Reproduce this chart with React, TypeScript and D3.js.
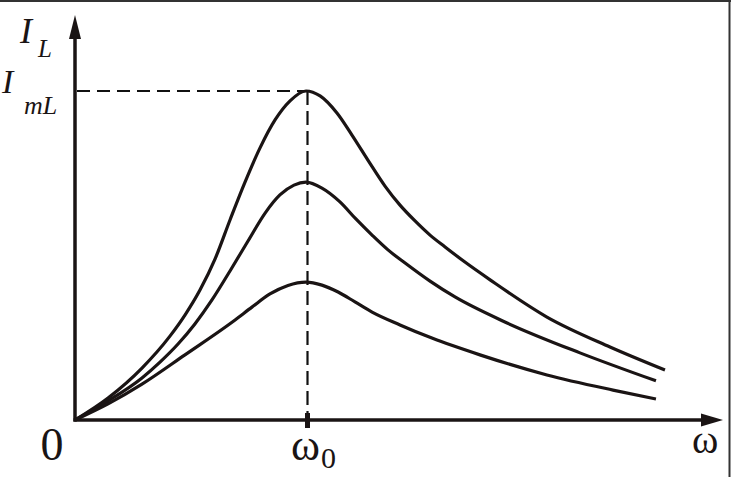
import React from 'react'
import * as d3 from 'd3'

const width = 731
const height = 477

// resonance curves: [omega / omega0, I / ImL]
const curveHigh: [number, number][] = [
  [0, 0], [0.143, 0.067], [0.29, 0.158], [0.411, 0.255], [0.476, 0.319], [0.541, 0.395],
  [0.606, 0.489], [0.671, 0.608], [0.736, 0.723], [0.801, 0.827], [0.866, 0.912],
  [0.931, 0.97], [1, 1], [1.061, 0.985], [1.134, 0.933], [1.199, 0.866], [1.268, 0.79],
  [1.342, 0.711], [1.407, 0.653], [1.472, 0.605], [1.537, 0.562], [1.602, 0.526],
  [1.688, 0.48], [1.797, 0.426], [2.043, 0.313], [2.316, 0.222], [2.554, 0.152],
]
const curveMid: [number, number][] = [
  [0, 0], [0.143, 0.058], [0.29, 0.128], [0.368, 0.176], [0.446, 0.231], [0.519, 0.292],
  [0.593, 0.365], [0.671, 0.453], [0.749, 0.544], [0.823, 0.629], [0.887, 0.684],
  [0.948, 0.714], [1, 0.723], [1.069, 0.705], [1.147, 0.663], [1.216, 0.611], [1.286, 0.562],
  [1.355, 0.517], [1.429, 0.477], [1.537, 0.422], [1.645, 0.374], [1.861, 0.298],
  [2.186, 0.204], [2.515, 0.119],
]
const curveLow: [number, number][] = [
  [0, 0], [0.143, 0.049], [0.29, 0.109], [0.476, 0.198], [0.693, 0.304], [0.766, 0.343],
  [0.844, 0.383], [0.922, 0.409], [1, 0.419], [1.069, 0.41], [1.139, 0.389], [1.212, 0.359],
  [1.286, 0.328], [1.407, 0.289], [1.545, 0.249], [1.753, 0.198], [2.043, 0.137],
  [2.329, 0.091], [2.515, 0.064],
]
const curves = [curveHigh, curveMid, curveLow]
const omega0 = 1
const peakI = 1

const ox = 75
const oy = 420
const xEnd = 723
const yTop = 15
const serif = "'Liberation Serif'"
const ink = '#1a1414'

const x = d3.scaleLinear().domain([0, 1]).range([ox, 306])
const y = d3.scaleLinear().domain([0, 1]).range([oy, 91])

const line = d3
  .line<[number, number]>()
  .x((d) => x(d[0]))
  .y((d) => y(d[1]))
  .curve(d3.curveMonotoneX)

function Label(props: { x: number; y: number; size: number; italic?: boolean; anchor?: string; children: string }) {
  return (
    <text
      x={props.x}
      y={props.y}
      fill={ink}
      fontFamily="Liberation Serif"
      textAnchor={props.anchor || 'start'}
      style={{ fontFamily: serif, fontSize: props.size, fontStyle: props.italic ? 'italic' : 'normal' }}
    >
      {props.children}
    </text>
  )
}

export default function App() {
  const w0 = x(omega0) + 1.5
  return (
    <svg width={width} height={height} style={{ position: 'absolute', left: 0, top: 0, display: 'block' }}>
      <rect width={width} height={height} fill="#fff" />
      {/* frame bits */}
      <line x1={0} x2={width} y1={1} y2={1} stroke="#333" strokeWidth={2} />
      <line x1={729.5} x2={729.5} y1={0} y2={height} stroke="#333" strokeWidth={2} />

      {/* dashed guides */}
      <line x1={ox} x2={x(omega0)} y1={y(peakI)} y2={y(peakI)} stroke="#111" strokeWidth={2.2}
        strokeDasharray="13,7" strokeDashoffset={-2} />
      <line x1={w0} x2={w0} y1={y(peakI)} y2={oy} stroke="#111" strokeWidth={2.2} strokeDasharray="14,6" />

      {curves.map((c, i) => (
        <path key={i} d={line(c) || ''} fill="none" stroke={ink} strokeWidth={3.2} />
      ))}

      {/* axes */}
      <line x1={ox} x2={ox} y1={oy + 1.5} y2={yTop + 18} stroke={ink} strokeWidth={3.5} />
      <line x1={ox - 1.5} x2={xEnd - 16} y1={oy} y2={oy} stroke={ink} strokeWidth={3.5} />
      <path d={`M${ox},${yTop} L${ox - 6},${yTop + 24} L${ox + 6},${yTop + 24} Z`} fill={ink} />
      <path d={`M${xEnd},${oy} L${xEnd - 22},${oy - 6.5} L${xEnd - 22},${oy + 6.5} Z`} fill={ink} />
      <line x1={w0} x2={w0} y1={oy - 7} y2={oy + 8} stroke={ink} strokeWidth={5} />

      <Label x={20} y={43} size={36} italic>I</Label>
      <Label x={38} y={57} size={25} italic>L</Label>
      <Label x={2} y={93} size={34} italic>I</Label>
      <Label x={24} y={114} size={26} italic>mL</Label>
      <Label x={52} y={460} size={46} anchor="middle">0</Label>
      <Label x={291} y={460} size={44}>ω</Label>
      <Label x={321} y={468} size={30}>0</Label>
      <Label x={692} y={453} size={40}>ω</Label>
    </svg>
  )
}
